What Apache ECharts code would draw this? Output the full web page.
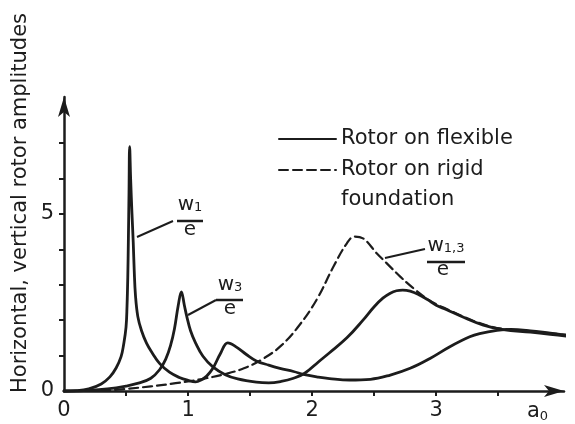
<!DOCTYPE html>
<html>
<head>
<meta charset="utf-8">
<script src="https://cdn.jsdelivr.net/npm/echarts@6/dist/echarts.min.js"></script>
<style>
  html, body { margin: 0; padding: 0; background: #ffffff; }
  #chart { width: 575px; height: 424px; }
</style>
</head>
<body>
<div id="chart"></div>
<script>
// ---- data ----
const xTickValues = [0.5, 1, 1.5, 2, 2.5, 3, 3.5];
const xLabelValues = [0, 1, 2, 3];
const yTickValues = [1, 2, 3, 4, 5, 6, 7];
const yLabelValues = [0, 5];

// w1/e, rotor on flexible foundation
const w1Flexible = [
  [0, 0], [0.1, 0.01], [0.2, 0.06], [0.3, 0.2], [0.37, 0.4], [0.42, 0.65], [0.46, 0.97],
  [0.48, 1.3], [0.5, 1.8], [0.508, 2.4], [0.514, 3.2], [0.519, 4.3], [0.524, 5.6], [0.529, 6.9],
  [0.537, 6.0], [0.548, 5.0], [0.558, 4.2], [0.566, 3.4], [0.576, 2.7], [0.595, 2.1], [0.625, 1.7],
  [0.665, 1.35], [0.71, 1.08], [0.77, 0.78], [0.85, 0.53], [0.93, 0.38], [1.0, 0.3], [1.06, 0.26], [1.1, 0.3],
  [1.15, 0.42], [1.2, 0.64], [1.26, 1.05], [1.32, 1.36], [1.39, 1.24], [1.47, 1.03], [1.55, 0.85],
  [1.65, 0.73], [1.74, 0.64], [1.85, 0.55], [1.94, 0.46], [2.05, 0.39], [2.14, 0.35], [2.3, 0.31],
  [2.47, 0.33], [2.63, 0.45], [2.79, 0.64], [2.95, 0.92], [3.11, 1.25], [3.27, 1.53], [3.35, 1.62],
  [3.49, 1.71], [3.6, 1.74], [3.76, 1.7], [3.92, 1.63], [4.11, 1.55]
];

// w3/e, rotor on flexible foundation
const w3Flexible = [
  [0, 0], [0.2, 0.02], [0.35, 0.06], [0.5, 0.14], [0.6, 0.22], [0.7, 0.36], [0.77, 0.6],
  [0.82, 0.9], [0.86, 1.3], [0.89, 1.75], [0.92, 2.4], [0.946, 2.8], [0.97, 2.42], [0.99, 2.1],
  [1.02, 1.7], [1.06, 1.36], [1.12, 0.98], [1.2, 0.68], [1.3, 0.46], [1.4, 0.34], [1.55, 0.25],
  [1.65, 0.23], [1.75, 0.27], [1.85, 0.36], [1.94, 0.5], [2.05, 0.82], [2.14, 1.08], [2.28, 1.5],
  [2.41, 2.0], [2.5, 2.38], [2.57, 2.62], [2.63, 2.76], [2.68, 2.83], [2.73, 2.85], [2.79, 2.82],
  [2.86, 2.72], [2.93, 2.58], [3.0, 2.42], [3.08, 2.3], [3.22, 2.08], [3.38, 1.86], [3.54, 1.73],
  [3.76, 1.66], [3.92, 1.6], [4.11, 1.52]
];

// w1,3/e, rotor on rigid foundation
const w13Rigid = [
  [0.3, 0], [0.5, 0.06], [0.7, 0.13], [0.9, 0.22], [1.1, 0.33], [1.3, 0.48], [1.45, 0.64],
  [1.6, 0.9], [1.75, 1.28], [1.9, 1.87], [2.04, 2.6], [2.17, 3.5], [2.28, 4.17], [2.34, 4.36],
  [2.41, 4.31], [2.52, 3.89], [2.6, 3.61], [2.71, 3.23], [2.81, 2.92], [2.92, 2.62], [3.0, 2.45],
  [3.08, 2.32], [3.22, 2.1], [3.38, 1.88], [3.54, 1.75], [3.76, 1.69], [3.92, 1.63], [4.11, 1.56]
];

const seriesNames = ['Rotor on flexible', 'Rotor on rigid\nfoundation'];
const yAxisTitle = 'Horizontal, vertical rotor amplitudes';

// ---- chart ----
const INK = '#1c1c1c';
const FONT = 'DejaVu Sans';
const chart = echarts.init(document.getElementById('chart'), null, { renderer: 'canvas' });

function curve(name, data, dashed, width) {
  return {
    type: 'line',
    name: name,
    data: data,
    showSymbol: false,
    symbol: 'none',
    smooth: 0.4,
    clip: false,
    silent: true,
    animation: false,
    lineStyle: { color: INK, width: width, type: dashed ? [9, 5] : 'solid', cap: 'round', join: 'round' },
    itemStyle: { color: INK }
  };
}

const option = {
  backgroundColor: '#ffffff',
  animation: false,
  textStyle: { fontFamily: FONT, color: INK },
  grid: { left: 64, right: 11, top: 97, bottom: 33, containLabel: false },
  legend: {
    show: true,
    orient: 'vertical',
    left: 278,
    top: 124,
    padding: 0,
    itemWidth: 57,
    itemHeight: 14,
    itemGap: -29,
    selectedMode: false,
    itemStyle: { opacity: 0 },
    data: [seriesNames[0], seriesNames[1]],
    formatter: function (n) { return n === seriesNames[1] ? '\n' + n : n; },
    textStyle: { fontFamily: FONT, fontSize: 21, color: INK, lineHeight: 30 }
  },
  xAxis: {
    type: 'value',
    min: 0,
    max: 4.03,
    name: '{a|a}{s|0}',
    nameLocation: 'end',
    nameGap: -37,
    nameTextStyle: {
      verticalAlign: 'top', align: 'left', padding: [9, 0, 0, 0],
      rich: {
        a: { fontFamily: FONT, fontSize: 21, color: INK },
        s: { fontFamily: FONT, fontSize: 13, color: INK, verticalAlign: 'bottom', padding: [10, 0, 0, 0] }
      }
    },
    axisLine: { show: true, lineStyle: { color: INK, width: 2.5 }, symbol: ['none', 'arrow'], symbolSize: [9, 20] },
    axisTick: { show: true, inside: false, length: 5, lineStyle: { color: INK, width: 2 }, customValues: xTickValues },
    axisLabel: { show: true, customValues: xLabelValues, margin: 9, fontFamily: FONT, fontSize: 21, color: INK },
    splitLine: { show: false }
  },
  yAxis: {
    type: 'value',
    min: 0,
    max: 8.3,
    axisLine: { show: true, lineStyle: { color: INK, width: 2.5 }, symbol: ['none', 'arrow'], symbolSize: [9, 20] },
    axisTick: { show: true, inside: false, length: 5, lineStyle: { color: INK, width: 2 }, customValues: yTickValues },
    axisLabel: { show: true, customValues: yLabelValues, margin: 10, fontFamily: FONT, fontSize: 21, color: INK },
    splitLine: { show: false }
  },
  series: [
    curve(seriesNames[0], w1Flexible, false, 2.8),
    curve(seriesNames[0], w3Flexible, false, 2.8),
    curve(seriesNames[1], w13Rigid, true, 2.2)
  ],
  graphic: [
    {
      type: 'text', x: 21, y: 203, rotation: Math.PI / 2,
      style: { text: yAxisTitle, font: '21px "DejaVu Sans"', fill: INK, align: 'center', verticalAlign: 'middle' }
    },
    // w1/e annotation
    { type: 'line', shape: { x1: 137, y1: 237, x2: 173, y2: 221 }, style: { stroke: INK, lineWidth: 2 } },
    { type: 'text', x: 190, y: 215, style: { text: '{w|w}{s|1}', align: 'center', verticalAlign: 'bottom',
      rich: { w: { font: '20px "DejaVu Sans"', fill: INK }, s: { font: '13px "DejaVu Sans"', fill: INK, padding: [6, 0, 0, 0] } } } },
    { type: 'line', shape: { x1: 177, y1: 221, x2: 203, y2: 221 }, style: { stroke: INK, lineWidth: 2.5 } },
    { type: 'text', x: 190, y: 230, style: { text: 'e', font: '20px "DejaVu Sans"', fill: INK, align: 'center', verticalAlign: 'middle' } },
    // w3/e annotation
    { type: 'line', shape: { x1: 188, y1: 315, x2: 216, y2: 300 }, style: { stroke: INK, lineWidth: 2 } },
    { type: 'text', x: 230, y: 295, style: { text: '{w|w}{s|3}', align: 'center', verticalAlign: 'bottom',
      rich: { w: { font: '20px "DejaVu Sans"', fill: INK }, s: { font: '13px "DejaVu Sans"', fill: INK, padding: [6, 0, 0, 0] } } } },
    { type: 'line', shape: { x1: 216, y1: 300, x2: 243, y2: 300 }, style: { stroke: INK, lineWidth: 2.5 } },
    { type: 'text', x: 230, y: 309, style: { text: 'e', font: '20px "DejaVu Sans"', fill: INK, align: 'center', verticalAlign: 'middle' } },
    // w1,3/e annotation
    { type: 'line', shape: { x1: 385, y1: 258, x2: 425, y2: 249 }, style: { stroke: INK, lineWidth: 2 } },
    { type: 'text', x: 446, y: 256, style: { text: '{w|w}{s|1,3}', align: 'center', verticalAlign: 'bottom',
      rich: { w: { font: '20px "DejaVu Sans"', fill: INK }, s: { font: '13px "DejaVu Sans"', fill: INK, padding: [6, 0, 0, 0] } } } },
    { type: 'line', shape: { x1: 427, y1: 262, x2: 465, y2: 262 }, style: { stroke: INK, lineWidth: 2.5 } },
    { type: 'text', x: 443, y: 270, style: { text: 'e', font: '20px "DejaVu Sans"', fill: INK, align: 'center', verticalAlign: 'middle' } }
  ]
};

chart.setOption(option);
</script>
</body>
</html>
